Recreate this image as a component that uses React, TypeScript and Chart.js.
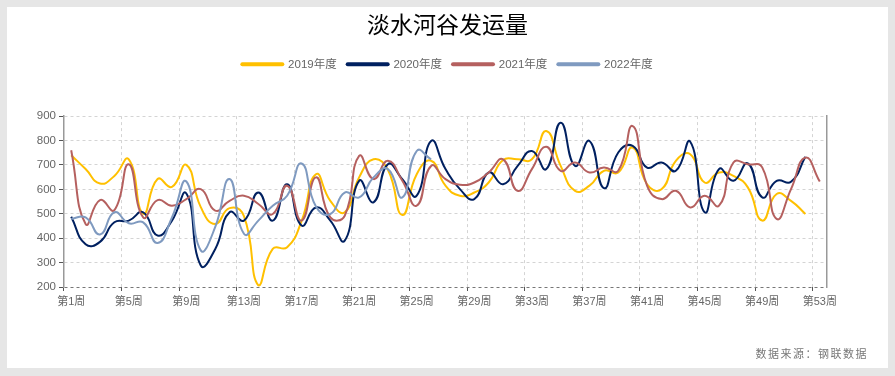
import { useEffect, useRef } from "react";
import { Chart, registerables } from "chart.js";

Chart.register(...registerables);

const weekLabels: string[] = Array.from({ length: 53 }, (_, i) => `第${i + 1}周`);

const seriesNames = ["2019年度", "2020年度", "2021年度", "2022年度"];
const seriesColors = ["#FFC000", "#002060", "#B5605F", "#7F9AC0"];

const data2019 = [
  740, 683, 624, 655, 723, 500, 642, 610, 700, 527,
  458, 523, 490, 207, 356, 363, 470, 662, 553, 506,
  649, 723, 680, 495, 662, 717, 615, 574, 587, 628,
  720, 723, 723, 839, 696, 594, 615, 676, 669, 771,
  621, 600, 717, 744, 628, 669, 655, 608, 472, 581,
  553, 499,
];

const data2020 = [
  488, 375, 385, 465, 472, 506, 411, 472, 583, 288,
  355, 506, 472, 587, 472, 621, 452, 526, 472, 390,
  635, 547, 703, 642, 574, 798, 683, 601, 560, 669,
  621, 695, 757, 683, 873, 696, 798, 605, 751, 778,
  689, 710, 676, 795, 506, 683, 635, 706, 567, 635,
  631, 733,
];

const data2021 = [
  760, 458, 556, 515, 703, 485, 556, 533, 560, 601,
  513, 553, 574, 540, 499, 615, 472, 649, 485, 492,
  737, 642, 717, 635, 533, 696, 642, 619, 628, 669,
  723, 594, 683, 774, 676, 710, 669, 689, 676, 859,
  615, 560, 594, 526, 574, 533, 710, 703, 690, 479,
  601, 730, 632,
];

const data2022 = [
  479, 485, 415, 506, 461, 465, 380, 485, 632, 350,
  445, 642, 418, 472, 533, 574, 706, 530, 499, 587,
  567, 649, 683, 567, 757, 723,
];

const yTicks = { min: 200, max: 900, step: 100 };

export default function App() {
  const canvasRef = useRef<HTMLCanvasElement | null>(null);

  useEffect(() => {
    if (!canvasRef.current) return;
    const allData = [data2019, data2020, data2021, data2022];
    const showTick = (i: any) => typeof i === "number" && i % 4 === 0 && i < weekLabels.length;
    const chart = new Chart(canvasRef.current, {
      type: "line",
      data: {
        labels: weekLabels,
        datasets: allData.map((d, i) => ({
          label: seriesNames[i],
          data: d,
          borderColor: seriesColors[i],
          backgroundColor: seriesColors[i],
          borderWidth: 2,
          pointRadius: 0,
          pointHoverRadius: 0,
          tension: 0.5,
          fill: false,
          order: 3 - i,
        })),
      },
      options: {
        animation: false,
        responsive: false,
        maintainAspectRatio: false,
        layout: { padding: 0 },
        font: { family: "'Liberation Sans', 'Noto Sans CJK SC', sans-serif" },
        plugins: {
          title: {
            display: true,
            text: "淡水河谷发运量",
            color: "#000",
            font: { size: 23, family: "'Noto Sans CJK SC', sans-serif", weight: "normal" as any },
            padding: { top: 10, bottom: 10 },
          },
          legend: {
            position: "top",
            labels: {
              usePointStyle: true,
              pointStyleWidth: 40,
              padding: 11,
              color: "#666",
              font: { size: 11.5, family: "'Liberation Sans', 'Noto Sans CJK SC', sans-serif" },
              sort: (a: any, b: any) => a.datasetIndex - b.datasetIndex,
              generateLabels: (c: any) => {
                const items = (Chart.defaults.plugins.legend.labels as any).generateLabels(c);
                return items.map((it: any) => ({
                  ...it,
                  pointStyle: "line",
                  lineWidth: 4,
                  lineCap: "round",
                  strokeStyle: seriesColors[it.datasetIndex],
                  fillStyle: seriesColors[it.datasetIndex],
                  fontColor: "#666",
                }));
              },
            },
          },
          tooltip: { enabled: false },
        },
        scales: {
          x: {
            type: "category",
            offset: true,
            grid: {
              offset: true,
              color: (ctx: any) => (showTick(ctx.index) ? "#d4d4d4" : "rgba(0,0,0,0)"),
              tickColor: (ctx: any) => (showTick(ctx.index) ? "#555" : "rgba(0,0,0,0)"),
              tickLength: 4,
              lineWidth: 1,
            },
            border: { display: false, dash: [3, 3] },
            ticks: {
              autoSkip: false,
              maxRotation: 0,
              minRotation: 0,
              color: "#666",
              padding: 4,
              font: { size: 11, family: "'Liberation Sans', 'Noto Sans CJK SC', sans-serif" },
              callback: (_v: any, i: number) => (i % 4 === 0 ? weekLabels[i] : ""),
            },
            afterFit: (s: any) => {
              s.height = 89;
            },
          },
          xTop: {
            type: "category",
            position: "top",
            display: true,
            grid: { display: false },
            border: { display: false },
            ticks: { display: false },
            afterFit: (s: any) => {
              s.height = 36;
            },
          },
          y: {
            min: yTicks.min,
            max: yTicks.max,
            ticks: {
              stepSize: yTicks.step,
              color: "#666",
              padding: 3,
              font: { size: 11.5, family: "'Liberation Sans', sans-serif" },
            },
            grid: {
              color: (ctx: any) => (ctx.tick && ctx.tick.value === yTicks.min ? "#777" : "#d4d4d4"),
              tickColor: "#555",
              tickLength: 5,
              lineWidth: 1,
            },
            border: { display: true, color: "#999", width: 1.5, dash: [3, 3] },
            afterFit: (s: any) => {
              s.width = 64;
            },
          },
          yRight: {
            position: "right",
            display: true,
            min: yTicks.min,
            max: yTicks.max,
            ticks: { display: false },
            grid: { display: false },
            border: { display: true, color: "#999", width: 1.5 },
            afterFit: (s: any) => {
              s.width = 68;
            },
          },
        },
      } as any,
    });
    return () => chart.destroy();
  }, []);

  return (
    <div style={{ position: "absolute", left: 0, top: 0, width: 895, height: 376, background: "#e6e6e6" }}>
      <div style={{ position: "absolute", left: 7, top: 7, width: 881, height: 361, background: "#fff" }} />
      <canvas ref={canvasRef} width={895} height={376} style={{ position: "absolute", left: 0, top: 0, display: "block" }} />
      <div
        style={{
          position: "absolute",
          right: 27,
          top: 345,
          fontFamily: "'Noto Sans CJK SC', sans-serif",
          fontSize: 11,
          letterSpacing: "1.5px",
          color: "#777",
          whiteSpace: "nowrap",
        }}
      >
        数据来源：钢联数据
      </div>
    </div>
  );
}
